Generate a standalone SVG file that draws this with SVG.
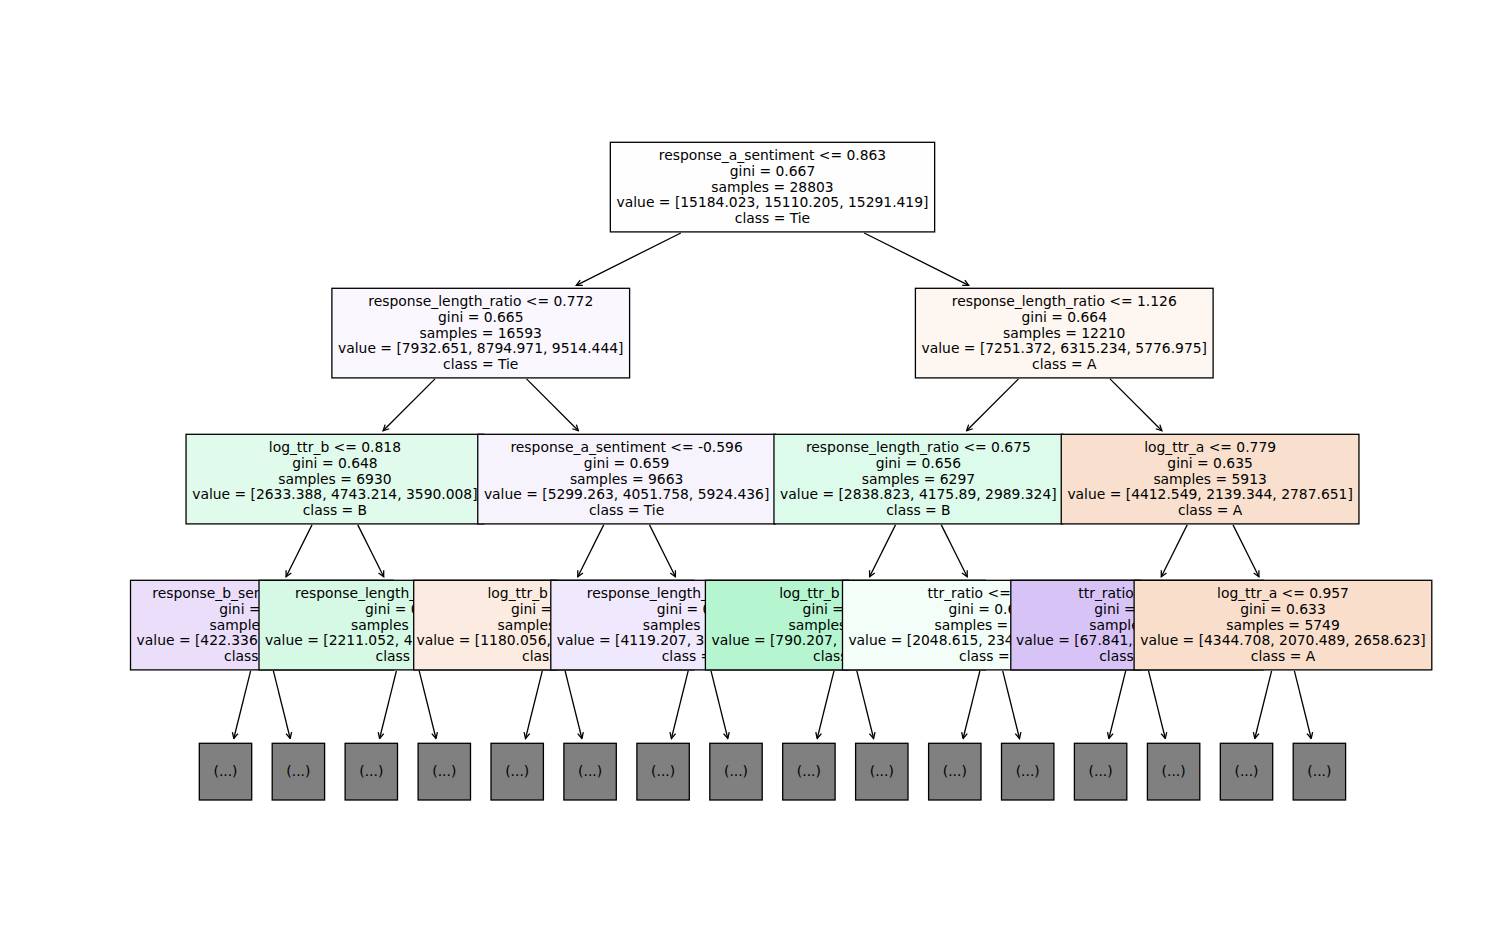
<svg xmlns="http://www.w3.org/2000/svg" width="1507" height="949" viewBox="0 0 1507 949">
<style>
.t{font-family:"DejaVu Sans","Liberation Sans",sans-serif;font-size:13.89px;fill:#000}
.m{text-anchor:middle}
.b{stroke:#000;stroke-width:1.3}
.leaf{fill:#808080;stroke:#000;stroke-width:1.3}
.e{fill:none;stroke:#000;stroke-width:1.3;marker-end:url(#ah)}
</style>
<defs>
<marker id="ah" viewBox="-7 -4 8 8" refX="0" refY="0" markerWidth="8" markerHeight="8" markerUnits="userSpaceOnUse" orient="auto">
<path d="M-5.8,-2.9 L0,0 L-5.8,2.9" fill="none" stroke="#000" stroke-width="1.3"/>
</marker>
</defs>
<rect width="1507" height="949" fill="#fff"/>
<g id="connectors">
<line class="e" x1="680.8" y1="233" x2="576.3" y2="285.3"/>
<line class="e" x1="864.2" y1="233" x2="968.7" y2="285.3"/>
<line class="e" x1="435" y1="378.9" x2="383.1" y2="430.8"/>
<line class="e" x1="526.5" y1="378.9" x2="578.4" y2="430.8"/>
<line class="e" x1="1018.5" y1="378.9" x2="966.6" y2="430.8"/>
<line class="e" x1="1110" y1="378.9" x2="1161.9" y2="430.8"/>
<line class="e" x1="312" y1="524.9" x2="286.1" y2="576.8"/>
<line class="e" x1="357.8" y1="524.9" x2="383.7" y2="576.8"/>
<line class="e" x1="603.7" y1="524.9" x2="577.8" y2="576.8"/>
<line class="e" x1="649.5" y1="524.9" x2="675.4" y2="576.8"/>
<line class="e" x1="895.5" y1="524.9" x2="869.6" y2="576.8"/>
<line class="e" x1="941.3" y1="524.9" x2="967.2" y2="576.8"/>
<line class="e" x1="1187.2" y1="524.9" x2="1161.3" y2="576.8"/>
<line class="e" x1="1233" y1="524.9" x2="1258.9" y2="576.8"/>
<line class="e" x1="250.6" y1="670.9" x2="233.8" y2="738.5"/>
<line class="e" x1="273.4" y1="670.9" x2="290.2" y2="738.5"/>
<line class="e" x1="396.4" y1="670.9" x2="379.6" y2="738.5"/>
<line class="e" x1="419.2" y1="670.9" x2="436" y2="738.5"/>
<line class="e" x1="542.3" y1="670.9" x2="525.5" y2="738.5"/>
<line class="e" x1="565.1" y1="670.9" x2="581.9" y2="738.5"/>
<line class="e" x1="688.2" y1="670.9" x2="671.4" y2="738.5"/>
<line class="e" x1="711" y1="670.9" x2="727.8" y2="738.5"/>
<line class="e" x1="834" y1="670.9" x2="817.2" y2="738.5"/>
<line class="e" x1="856.8" y1="670.9" x2="873.6" y2="738.5"/>
<line class="e" x1="979.9" y1="670.9" x2="963.1" y2="738.5"/>
<line class="e" x1="1002.7" y1="670.9" x2="1019.5" y2="738.5"/>
<line class="e" x1="1125.7" y1="670.9" x2="1108.9" y2="738.5"/>
<line class="e" x1="1148.5" y1="670.9" x2="1165.3" y2="738.5"/>
<line class="e" x1="1271.6" y1="670.9" x2="1254.8" y2="738.5"/>
<line class="e" x1="1294.4" y1="670.9" x2="1311.2" y2="738.5"/>
</g>
<g id="node-root">
<rect class="b" x="610.35" y="142.3" width="324.3" height="89.6" fill="#fefefe"/>
<text class="t m" x="772.5" y="160.4">response_a_sentiment &lt;= 0.863</text>
<text class="t m" x="772.5" y="176">gini = 0.667</text>
<text class="t m" x="772.5" y="191.6">samples = 28803</text>
<text class="t m" x="772.5" y="207.1">value = [15184.023, 15110.205, 15291.419]</text>
<text class="t m" x="772.5" y="222.7">class = Tie</text>
</g>
<g id="node-l1a">
<rect class="b" x="331.9" y="288.3" width="297.7" height="89.6" fill="#faf7fe"/>
<text class="t m" x="480.75" y="306.4">response_length_ratio &lt;= 0.772</text>
<text class="t m" x="480.75" y="322">gini = 0.665</text>
<text class="t m" x="480.75" y="337.6">samples = 16593</text>
<text class="t m" x="480.75" y="353.1">value = [7932.651, 8794.971, 9514.444]</text>
<text class="t m" x="480.75" y="368.7">class = Tie</text>
</g>
<g id="node-l2a">
<rect class="b" x="186.05" y="434.3" width="297.7" height="89.6" fill="#e0fbeb"/>
<text class="t m" x="334.9" y="452.4">log_ttr_b &lt;= 0.818</text>
<text class="t m" x="334.9" y="468">gini = 0.648</text>
<text class="t m" x="334.9" y="483.6">samples = 6930</text>
<text class="t m" x="334.9" y="499.1">value = [2633.388, 4743.214, 3590.008]</text>
<text class="t m" x="334.9" y="514.7">class = B</text>
</g>
<g id="node-l3a">
<rect class="b" x="130.5" y="580.3" width="263" height="89.6" fill="#eadefb"/>
<text class="t" x="152.3" y="598.4">response_b_sen</text>
<text class="t" x="219.2" y="614">gini =</text>
<text class="t" x="209.6" y="629.6">sample</text>
<text class="t" x="136.6" y="645.1">value = [422.336,</text>
<text class="t" x="224.1" y="660.7">class</text>
</g>
<g id="node-l3b">
<rect class="b" x="259" y="580.3" width="297.7" height="89.6" fill="#d5f9e4"/>
<text class="t" x="295" y="598.4">response_length_</text>
<text class="t" x="365" y="614">gini = 0</text>
<text class="t" x="351" y="629.6">samples</text>
<text class="t" x="264.9" y="645.1">value = [2211.052, 4</text>
<text class="t" x="375.6" y="660.7">class</text>
</g>
<g id="node-l2b">
<rect class="b" x="477.75" y="434.3" width="297.7" height="89.6" fill="#f7f3fd"/>
<text class="t m" x="626.6" y="452.4">response_a_sentiment &lt;= -0.596</text>
<text class="t m" x="626.6" y="468">gini = 0.659</text>
<text class="t m" x="626.6" y="483.6">samples = 9663</text>
<text class="t m" x="626.6" y="499.1">value = [5299.263, 4051.758, 5924.436]</text>
<text class="t m" x="626.6" y="514.7">class = Tie</text>
</g>
<g id="node-l3c">
<rect class="b" x="413.7" y="580.3" width="280" height="89.6" fill="#fbebe0"/>
<text class="t" x="487.5" y="598.4">log_ttr_b</text>
<text class="t" x="510.9" y="614">gini =</text>
<text class="t" x="497.5" y="629.6">samples</text>
<text class="t" x="416.5" y="645.1">value = [1180.056,</text>
<text class="t" x="522" y="660.7">class</text>
</g>
<g id="node-l3d">
<rect class="b" x="550.8" y="580.3" width="297.7" height="89.6" fill="#f0e8fc"/>
<text class="t" x="586.8" y="598.4">response_length_</text>
<text class="t" x="656.8" y="614">gini = 0</text>
<text class="t" x="642.8" y="629.6">samples</text>
<text class="t" x="556.7" y="645.1">value = [4119.207, 3</text>
<text class="t" x="661.7" y="660.7">class =</text>
</g>
<g id="node-l1b">
<rect class="b" x="915.4" y="288.3" width="297.7" height="89.6" fill="#fdf6f1"/>
<text class="t m" x="1064.25" y="306.4">response_length_ratio &lt;= 1.126</text>
<text class="t m" x="1064.25" y="322">gini = 0.664</text>
<text class="t m" x="1064.25" y="337.6">samples = 12210</text>
<text class="t m" x="1064.25" y="353.1">value = [7251.372, 6315.234, 5776.975]</text>
<text class="t m" x="1064.25" y="368.7">class = A</text>
</g>
<g id="node-l2c">
<rect class="b" x="773.95" y="434.3" width="288.9" height="89.6" fill="#ddfbea"/>
<text class="t m" x="918.4" y="452.4">response_length_ratio &lt;= 0.675</text>
<text class="t m" x="918.4" y="468">gini = 0.656</text>
<text class="t m" x="918.4" y="483.6">samples = 6297</text>
<text class="t m" x="918.4" y="499.1">value = [2838.823, 4175.89, 2989.324]</text>
<text class="t m" x="918.4" y="514.7">class = B</text>
</g>
<g id="node-l3e">
<rect class="b" x="705.4" y="580.3" width="280" height="89.6" fill="#b5f5d0"/>
<text class="t" x="779.2" y="598.4">log_ttr_b</text>
<text class="t" x="802.6" y="614">gini =</text>
<text class="t" x="788.6" y="629.6">samples</text>
<text class="t" x="711.6" y="645.1">value = [790.207,</text>
<text class="t" x="813.1" y="660.7">class</text>
</g>
<g id="node-l3f">
<rect class="b" x="842.5" y="580.3" width="297.7" height="89.6" fill="#f4fef9"/>
<text class="t" x="927.6" y="598.4">ttr_ratio &lt;=</text>
<text class="t" x="948.5" y="614">gini = 0.6</text>
<text class="t" x="934.5" y="629.6">samples =</text>
<text class="t" x="848.4" y="645.1">value = [2048.615, 234</text>
<text class="t" x="959.1" y="660.7">class =</text>
</g>
<g id="node-l2d">
<rect class="b" x="1061.25" y="434.3" width="297.7" height="89.6" fill="#f9e0ce"/>
<text class="t m" x="1210.1" y="452.4">log_ttr_a &lt;= 0.779</text>
<text class="t m" x="1210.1" y="468">gini = 0.635</text>
<text class="t m" x="1210.1" y="483.6">samples = 5913</text>
<text class="t m" x="1210.1" y="499.1">value = [4412.549, 2139.344, 2787.651]</text>
<text class="t m" x="1210.1" y="514.7">class = A</text>
</g>
<g id="node-l3g">
<rect class="b" x="1010.8" y="580.3" width="252.6" height="89.6" fill="#d8c3f7"/>
<text class="t" x="1078.3" y="598.4">ttr_ratio</text>
<text class="t" x="1094.3" y="614">gini =</text>
<text class="t" x="1089.3" y="629.6">sample</text>
<text class="t" x="1016" y="645.1">value = [67.841,</text>
<text class="t" x="1099.2" y="660.7">class</text>
</g>
<g id="node-l3h">
<rect class="b" x="1134.1" y="580.3" width="297.7" height="89.6" fill="#f8decb"/>
<text class="t m" x="1283" y="598.4">log_ttr_a &lt;= 0.957</text>
<text class="t m" x="1283" y="614">gini = 0.633</text>
<text class="t m" x="1283" y="629.6">samples = 5749</text>
<text class="t m" x="1283" y="645.1">value = [4344.708, 2070.489, 2658.623]</text>
<text class="t m" x="1283" y="660.7">class = A</text>
</g>
<g id="leaves">
<g id="leaf-1"><rect class="leaf" x="199.3" y="743.3" width="52.4" height="56.7"/><text class="t m" x="225.5" y="775.8">(...)</text></g>
<g id="leaf-2"><rect class="leaf" x="272.2" y="743.3" width="52.4" height="56.7"/><text class="t m" x="298.4" y="775.8">(...)</text></g>
<g id="leaf-3"><rect class="leaf" x="345.1" y="743.3" width="52.4" height="56.7"/><text class="t m" x="371.3" y="775.8">(...)</text></g>
<g id="leaf-4"><rect class="leaf" x="418.1" y="743.3" width="52.4" height="56.7"/><text class="t m" x="444.3" y="775.8">(...)</text></g>
<g id="leaf-5"><rect class="leaf" x="491" y="743.3" width="52.4" height="56.7"/><text class="t m" x="517.2" y="775.8">(...)</text></g>
<g id="leaf-6"><rect class="leaf" x="563.9" y="743.3" width="52.4" height="56.7"/><text class="t m" x="590.1" y="775.8">(...)</text></g>
<g id="leaf-7"><rect class="leaf" x="636.9" y="743.3" width="52.4" height="56.7"/><text class="t m" x="663.1" y="775.8">(...)</text></g>
<g id="leaf-8"><rect class="leaf" x="709.8" y="743.3" width="52.4" height="56.7"/><text class="t m" x="736" y="775.8">(...)</text></g>
<g id="leaf-9"><rect class="leaf" x="782.7" y="743.3" width="52.4" height="56.7"/><text class="t m" x="808.9" y="775.8">(...)</text></g>
<g id="leaf-10"><rect class="leaf" x="855.6" y="743.3" width="52.4" height="56.7"/><text class="t m" x="881.8" y="775.8">(...)</text></g>
<g id="leaf-11"><rect class="leaf" x="928.6" y="743.3" width="52.4" height="56.7"/><text class="t m" x="954.8" y="775.8">(...)</text></g>
<g id="leaf-12"><rect class="leaf" x="1001.5" y="743.3" width="52.4" height="56.7"/><text class="t m" x="1027.7" y="775.8">(...)</text></g>
<g id="leaf-13"><rect class="leaf" x="1074.4" y="743.3" width="52.4" height="56.7"/><text class="t m" x="1100.6" y="775.8">(...)</text></g>
<g id="leaf-14"><rect class="leaf" x="1147.4" y="743.3" width="52.4" height="56.7"/><text class="t m" x="1173.6" y="775.8">(...)</text></g>
<g id="leaf-15"><rect class="leaf" x="1220.3" y="743.3" width="52.4" height="56.7"/><text class="t m" x="1246.5" y="775.8">(...)</text></g>
<g id="leaf-16"><rect class="leaf" x="1293.2" y="743.3" width="52.4" height="56.7"/><text class="t m" x="1319.4" y="775.8">(...)</text></g>
</g>
</svg>
